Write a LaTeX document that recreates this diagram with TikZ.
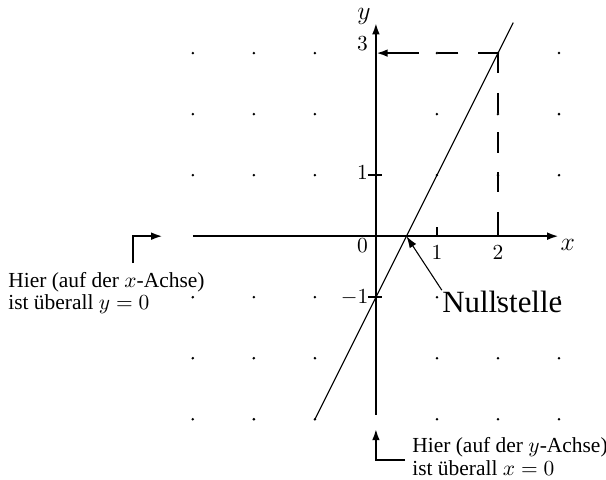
\documentclass[tikz,border=0pt]{standalone}
\usepackage[no-math]{fontspec}
\setmainfont{Liberation Serif}
\usetikzlibrary{arrows.meta, positioning}

\begin{document}
\begin{tikzpicture}[
    axis/.style={line width=1.1pt},
    arrow/.style={-{Latex[length=5.5pt,width=3.6pt]}},
    guide/.style={line width=1.1pt, dash pattern=on 0.33cm off 0.32cm},
    graphline/.style={line width=0.5pt},
    dot/.style={circle, fill, inner sep=0pt, minimum size=1.3pt},
    num/.style={inner sep=0pt},
    note/.style={align=left, inner sep=0pt, font=\fontsize{10}{10.5}\selectfont}
]
\useasboundingbox (-6.16,-3.98) rectangle (3.77,3.87);

% dot grid
\foreach \x in {-3,-2,-1,1,2,3}
  \foreach \y in {-3,-2,-1,1,2,3}
    \node[dot] at (\x,\y) {};

% axes
\coordinate (xl) at (-3,0);
\coordinate (xr) at (3,0);
\coordinate (yb) at (0,-2.93);
\coordinate (yt) at (0,3.5);
\draw[axis, arrow] (xl) -- (xr);
\draw[axis, arrow] (yb) -- (yt);
\node[right=0pt of xr, yshift=-4pt, inner sep=0.5pt, font=\large] (xlab) {$x$};
\node[left=0.08cm of yt, yshift=3pt, inner sep=0pt, font=\large] (ylab) {$y$};

% ticks
\foreach \x in {1,2}
  \draw[axis] (\x,0) -- (\x,0.15);
\foreach \y in {1,-1}
  \draw[axis] (-0.13,\y) -- (0.1,\y);

% tick labels
\node[num] (l0) at (-0.22,-0.15) {$0$};
\node[num, anchor=north] (lx1) at (1,-0.15) {$1$};
\node[num, anchor=north] (lx2) at (2,-0.15) {$2$};
\node[num] (ly1) at (-0.22,1.04) {$1$};
\node[num] (ly3) at (-0.22,3.15) {$3$};
\node[num] (lym1) at (-0.35,-1) {$-1$};

% graph y = 2x - 1
\coordinate (ga) at (-1,-3);
\coordinate (gb) at (2.25,3.5);
\draw[graphline] (ga) -- (gb);

% read-off at x = 2
\coordinate (p) at (2,3);
\coordinate (hmid) at (0.68,3);
\coordinate (y3) at (0,3);
\coordinate (x2) at (2,0);
\draw[guide] (p) -- (hmid);
\draw[axis, arrow] (hmid) -- (y3);
\draw[guide] (p) -- (x2);

% zero
\coordinate (root) at (0.5,0);
\node[inner sep=0pt, anchor=west, font=\Large] (null) at (1.08,-1.07) {Nullstelle};
\draw[graphline, arrow] (null.north west) -- (root);

% note on the x-axis
\node[note, anchor=north west] (xnote) at (-6.03,-0.58)
  {Hier (auf der $x$-Achse)\\ist überall $y=0$};
\coordinate (xa) at (-3.98,-0.44);
\coordinate (xb) at (-3.49,0);
\draw[axis, arrow] (xa) |- (xb);

% note on the y-axis
\node[note, anchor=north west] (ynote) at (0.59,-3.29)
  {Hier (auf der $y$-Achse)\\ist überall $x=0$};
\coordinate (ya) at (0.48,-3.67);
\coordinate (yb2) at (0,-3.15);
\draw[axis, arrow] (ya) -| (yb2);

\end{tikzpicture}
\end{document}
